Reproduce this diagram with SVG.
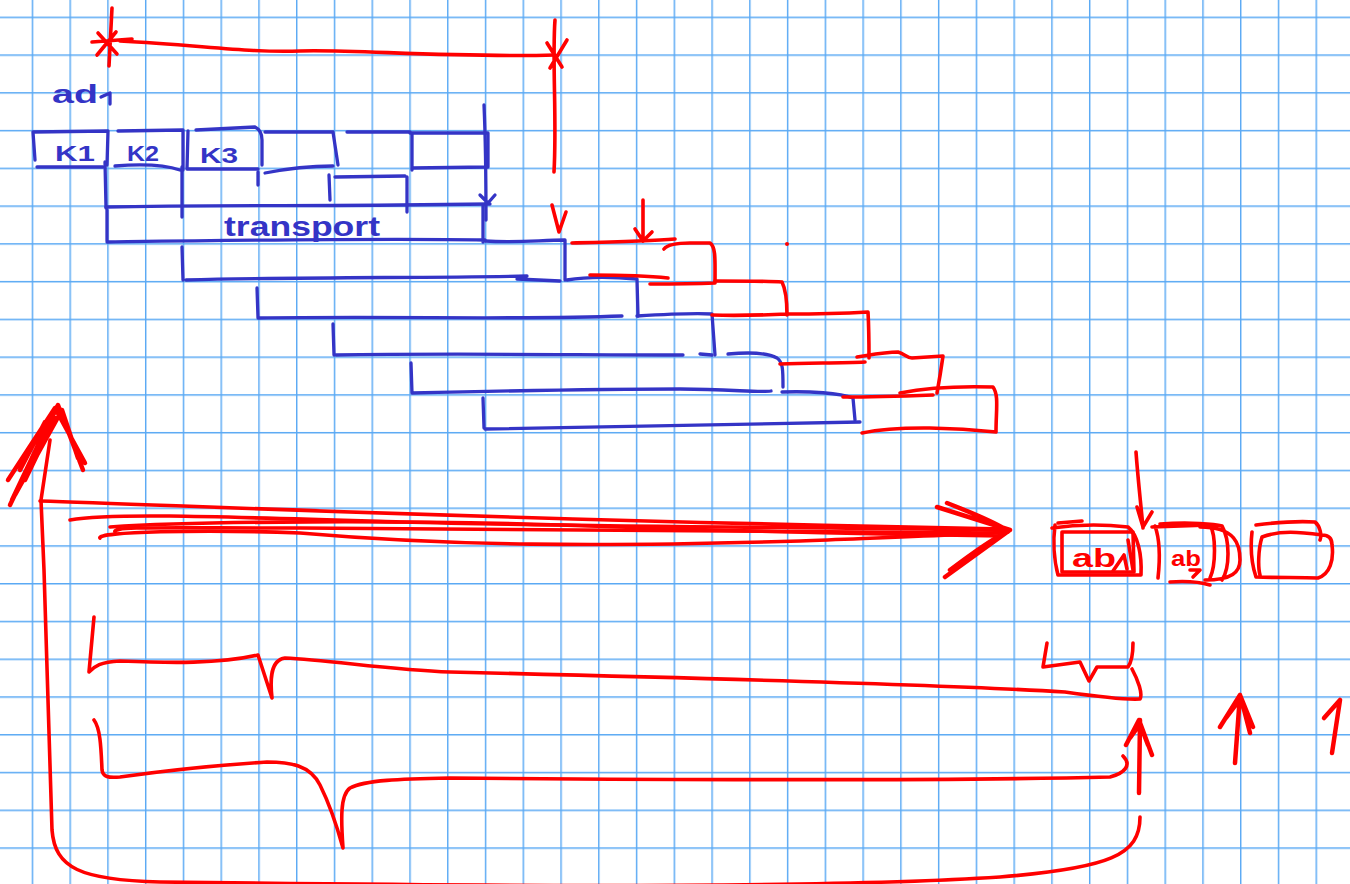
<svg xmlns="http://www.w3.org/2000/svg" width="1350" height="884" viewBox="0 0 1350 884">
<defs>
<pattern id="grid" patternUnits="userSpaceOnUse" x="31.7" y="16.6" width="37.76" height="37.76">
<path d="M0.7,0 V37.76 M0,0.7 H37.76" stroke="#5aa9f4" stroke-width="1.5" fill="none"/>
</pattern>
<style>
.b{stroke:#3434c6;stroke-width:3.3;fill:none;stroke-linecap:round;stroke-linejoin:round}
.r{stroke:#ff0000;stroke-width:3.6;fill:none;stroke-linecap:round;stroke-linejoin:round}
.rt{stroke:#ff0000;stroke-width:4.5;fill:none;stroke-linecap:round;stroke-linejoin:round}
.bt{fill:#3434c6;font-family:"Liberation Sans","DejaVu Sans",sans-serif;font-weight:bold}
.rtx{fill:#ff0000;font-family:"Liberation Sans","DejaVu Sans",sans-serif;font-weight:bold}
</style>
</defs>
<rect width="1350" height="884" fill="#ffffff"/>
<rect width="1350" height="884" fill="url(#grid)"/>

<g id="dimension">
<path class="r" d="M112,8 L109,66 M92,42 L132,39 M97,55 L116,32 M98,33 L117,54"/>
<path class="r" d="M120,41 C200,45 250,53 300,51 S450,58 555,55"/>
<path class="r" d="M555,20 C552,60 557,120 554,172 M547,43 L562,67 M567,40 L550,68"/>
</g>

<g id="label-ad1">
<text class="bt" x="52" y="103" font-size="26" textLength="46" lengthAdjust="spacingAndGlyphs">ad</text>
<path class="b" d="M101,97 L110,93 L110,104"/>
</g>

<g id="row1">
<g id="box-k1">
<path class="b" d="M33,132 L108,131 L107,165 M33,132 L35,160 M37,167 L103,167"/>
<text class="bt" x="55" y="161" font-size="22" textLength="40" lengthAdjust="spacingAndGlyphs">K1</text>
</g>
<g id="box-k2">
<path class="b" d="M118,131 L183,130 L183,170 M115,166 C140,164 165,165 180,170"/>
<text class="bt" x="127" y="161" font-size="22" textLength="32" lengthAdjust="spacingAndGlyphs">K2</text>
</g>
<g id="box-k3">
<path class="b" d="M196,130 L255,127 C261,130 262,136 262,140 L262,165 M187,169 L258,169 M188,131 L187,169"/>
<text class="bt" x="200" y="163" font-size="22" textLength="38" lengthAdjust="spacingAndGlyphs">K3</text>
</g>
<g id="box-4">
<path class="b" d="M265,132 L333,132 L338,165 M265,173 C290,168 315,166 333,166"/>
</g>
<g id="box-5"><path class="b" d="M347,132 L410,132"/></g>
<g id="box-6">
<path class="b" d="M410,133 L488,133 L488,167 M412,133 L412,170 M412,168 L488,167"/>
</g>
</g>

<g id="row2">
<path class="b" d="M105,162 L106,208 M182,167 L182,217 M258,172 L258,185 M329,175 L330,200 M335,177 L405,176 M407,177 L407,212"/>
<path class="b" d="M106,207 C200,205 300,206 400,205 L490,204"/>
<path class="b" d="M484,105 C486,150 486,190 486,220 M480,195 L488,203 L495,195"/>
</g>

<g id="row3-transport">
<path class="b" d="M107,210 L107,241 M107,242 C250,240 380,238 485,240 M483,206 L483,242"/>
<text class="bt" x="224" y="236" font-size="27" textLength="156" lengthAdjust="spacingAndGlyphs">transport</text>
</g>

<g id="row4">
<path class="b" d="M485,241 C520,243 540,240 565,240 L565,280 M182,247 L183,280 M186,280 C300,277 430,278 527,276 M517,279 L560,281"/>
<path class="b" d="M567,280 C590,276 615,277 637,279 L638,316"/>
</g>

<g id="row5">
<path class="b" d="M257,288 L258,318 M258,318 C400,316 520,320 622,316 M637,316 C670,314 695,313 712,314 L715,355"/>
</g>

<g id="row6">
<path class="b" d="M333,324 L334,355 M336,355 C450,353 580,355 683,355 M700,354 L712,355 M728,354 C750,352 768,353 777,358 C783,362 783,370 783,387"/>
</g>

<g id="row7">
<path class="b" d="M411,363 L412,393 M412,393 C500,391 600,389 680,389 C730,389 760,393 771,391 M782,392 C810,391 840,393 853,398 L855,420"/>
</g>

<g id="row8">
<path class="b" d="M483,398 L484,428 M485,429 C600,428 720,425 860,422"/>
</g>

<g id="red-staircase">
<path class="r" d="M552,205 L559,232 L566,212"/>
<path class="r" d="M643,200 L643,240 M635,229 L643,241 L652,232"/>
<path class="r" d="M572,243 C610,242 650,241 675,239"/>
<path class="r" d="M664,249 C668,244 678,243 690,243 L710,243 C716,247 715,260 715,283 M715,283 C690,284 665,284 650,284"/>
<path class="r" d="M590,275 C620,275 650,276 668,278"/>
<path class="r" d="M715,281 C740,281 770,281 782,282 C786,290 787,300 787,315 M712,315 C740,316 765,315 787,314"/>
<path class="r" d="M787,314 C820,314 850,313 868,312 C869,330 869,345 869,358 M780,364 C810,363 840,363 865,362"/>
<path class="r" d="M857,357 C870,355 885,352 898,352 C905,354 907,358 912,358 L943,356 C941,370 939,382 937,393 M843,397 C870,397 905,396 933,395"/>
<path class="r" d="M900,393 C925,388 960,386 993,387 C999,395 996,410 996,432 M862,433 C900,425 960,428 996,432"/>
<circle cx="787" cy="244" r="2" fill="#ff0000"/>
</g>

<g id="red-blocks">
<g id="block-ab1">
<path class="r" d="M1052,528 C1080,524 1110,525 1128,527 C1138,535 1142,555 1141,575 L1058,575 C1054,560 1053,540 1055,525"/>
<path class="r" d="M1062,532 L1133,532 L1134,572 L1062,572 Z"/>
<path class="r" d="M1058,523 L1082,521 M1128,540 L1133,570"/>
<text class="rtx" x="1072" y="567" font-size="25" textLength="44" lengthAdjust="spacingAndGlyphs">ab</text>
<path class="r" d="M1113,571 L1124,555 L1127,569"/>
</g>
<g id="block-ab2">
<path class="r" d="M1155,526 C1160,540 1160,560 1158,578 M1152,527 L1210,525 C1216,535 1216,565 1210,578"/>
<path class="r" d="M1160,524 C1190,522 1215,524 1222,526 C1230,540 1230,568 1222,580 M1200,527 C1236,527 1240,545 1240,560 C1240,572 1232,580 1205,580"/>
<path class="r" d="M1170,582 C1185,581 1200,582 1210,585"/>
<text class="rtx" x="1171" y="566" font-size="22" textLength="30" lengthAdjust="spacingAndGlyphs">ab</text>
<path class="r" d="M1190,570 L1200,570 L1193,577"/>
</g>
<g id="block-3">
<path class="r" d="M1256,525 C1280,522 1300,521 1315,522 C1320,526 1322,535 1320,540 M1252,532 C1250,550 1252,565 1256,577 C1280,578 1300,577 1318,578 C1330,574 1334,560 1332,545 C1332,538 1328,535 1322,535 C1300,532 1280,530 1262,537 C1258,550 1258,568 1260,575"/>
</g>
<path class="r" d="M1136,452 C1138,480 1141,505 1143,528 M1137,507 L1143,527 L1152,512"/>
</g>

<g id="connectors">
<path class="r" d="M1140,817 C1140,855 1110,868 1000,877 C800,890 400,885 160,882 C80,880 55,868 52,830 L44,570 L41,500 L50,440"/>
<path class="rt" d="M10,505 L58,405 L83,470 M8,480 L55,408 L85,463 M15,495 L62,410 L78,458 M12,500 L50,420 M20,470 L45,422 M25,480 L55,418"/>
<path class="r" d="M40,501 C200,506 500,520 1005,529"/>
<path class="r" d="M70,520 C110,513 200,516 400,522 C600,527 800,527 1003,530"/>
<path class="r" d="M115,532 C112,526 160,528 300,528 C500,528 750,530 1000,533"/>
<path class="r" d="M110,527 C200,521 400,520 560,525 C700,530 850,534 1000,536"/>
<path class="r" d="M100,538 C95,532 200,529 300,533 C450,546 600,547 800,541 C900,537 960,535 1008,532"/>
<path class="rt" d="M937,507 L1010,530 L945,577 M947,503 C970,512 990,520 1005,529 M950,570 C970,555 990,540 1005,533"/>
<path class="r" d="M94,617 L89,672 C95,666 100,662 120,661 C170,663 220,664 258,655 L272,698 C270,680 270,660 285,658 C330,660 390,670 450,672 C700,678 950,685 1065,692 C1100,697 1125,700 1140,699 C1143,694 1138,680 1132,669"/>
<path class="r" d="M1047,643 L1043,667 L1080,662 L1089,681 L1097,667 L1128,667 C1133,660 1133,650 1133,643"/>
<path class="r" d="M94,720 C100,728 101,745 102,770 C103,777 108,778 120,777 C170,770 220,765 267,762 C290,762 310,765 320,785 C330,805 338,830 343,848 C341,820 340,795 350,788 C365,780 400,779 450,778 C700,780 950,781 1110,777 C1125,773 1132,765 1123,756"/>
<path class="rt" d="M1139,793 L1140,720 M1126,745 L1139,720 L1152,755 M1130,738 L1140,724 L1148,745"/>
<path class="rt" d="M1235,763 L1240,695 M1220,727 L1240,695 L1253,727 M1226,718 L1241,698 L1250,733"/>
<path class="rt" d="M1332,753 L1340,700 M1324,718 L1340,700"/>
</g>
</svg>
